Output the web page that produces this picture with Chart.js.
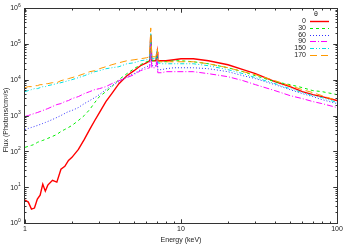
<!DOCTYPE html>
<html>
<head>
<meta charset="utf-8">
<script src="https://cdn.jsdelivr.net/npm/chart.js@4.4.0/dist/chart.umd.min.js"></script>
<style>
  html, body { margin: 0; padding: 0; background: #fff; }
  canvas { display: block; }
</style>
</head>
<body>
<canvas id="grafico" width="350" height="245"></canvas>
<script>
// Energía (keV)
const energias = [1.0, 1.05, 1.1, 1.15, 1.2, 1.25, 1.3, 1.35, 1.4, 1.5, 1.6, 1.7, 1.8, 1.9, 2.0, 2.2, 2.4, 2.6, 2.8, 3.0,
  3.3, 3.6, 4.0, 4.5, 5.0, 5.5, 6.0, 6.3, 6.4, 6.5, 6.9, 7.05, 7.1, 7.5, 8, 9, 10, 12, 15, 20,
  25, 30, 40, 50, 60, 70, 80, 100];

// Flujo (Photons/cm2/s) por ángulo
const flujo0 = [4.35, 3.83, 2.45, 2.61, 4.64, 6.0, 12.1, 7.74, 11.4, 15.6, 13.8, 31.6, 38, 56, 68, 113, 215, 408, 726, 1210,
  2450, 4080, 7740, 12900, 17800, 24500, 29600, 33700, 178000, 33700, 33700, 60000, 33700, 33700, 33700, 35900, 38300, 38300, 33700, 26100,
  19000, 14700, 8800, 6390, 4640, 3830, 3370, 2610];
const flujo30 = [129, 138, 147, 156, 178, 190, 202, 215, 230, 261, 296, 359, 408, 464, 527, 726, 1000, 1470, 2300, 3370,
  4640, 6390, 10000, 14700, 20200, 26100, 31600, 33700, 167000, 33700, 33700, 60000, 31600, 31600, 31600, 33700, 33700, 31600, 27800, 21500,
  16700, 12900, 8800, 7260, 5990, 4950, 4640, 3830];
const flujo60 = [408, 435, 464, 495, 527, 562, 599, 639, 681, 774, 880, 1000, 1140, 1290, 1380, 1670, 2150, 2610, 3160, 3830,
  5270, 6810, 8800, 12100, 14700, 19000, 23000, 24500, 114000, 24500, 24500, 46400, 19000, 19000, 20200, 21500, 21500, 21500, 20200, 16700,
  12900, 10700, 7260, 5270, 4080, 3370, 2780, 2150];
const flujo90 = [938, 1000, 1070, 1140, 1210, 1290, 1380, 1470, 1560, 1780, 2020, 2150, 2450, 2610, 2960, 3370, 4080, 4640, 5270, 5620,
  6390, 7740, 9380, 11400, 13800, 17800, 20200, 21500, 100000, 21500, 21500, 40800, 15600, 15600, 16700, 16700, 16700, 16700, 14700, 12100,
  9380, 7260, 4950, 3590, 2960, 2450, 2150, 1670];
const flujo150 = [4640, 4950, 5270, 5620, 5620, 5990, 6390, 6390, 6810, 7260, 7740, 8250, 8800, 9380, 10000, 11400, 12900, 14700, 16700, 17800,
  20200, 21500, 23000, 27800, 29600, 33700, 35900, 38300, 202000, 38300, 38300, 63900, 29600, 27800, 27800, 27800, 27800, 27800, 24500, 19000,
  14700, 11400, 7740, 5620, 4350, 3590, 3160, 2300];
const flujo170 = [5990, 6390, 6390, 6810, 6810, 7260, 7260, 7740, 7740, 8250, 8250, 9380, 10000, 10700, 11400, 12900, 14700, 16700, 17800, 20200,
  23000, 26100, 29600, 33700, 35900, 38300, 40800, 43500, 278000, 43500, 43500, 72600, 33700, 31600, 31600, 31600, 31600, 31600, 27800, 21500,
  16700, 13800, 9380, 6810, 5270, 4350, 3590, 2610];

const angulos = ["0", "30", "60", "90", "150", "170"];
const ticksX = [1, 10, 100];
const etiquetasX = ["1", "10", "100"];
const ticksY = [1, 10, 100, 1e3, 1e4, 1e5, 1e6];
const exponentesY = ["0", "1", "2", "3", "4", "5", "6"];

const series = [flujo0, flujo30, flujo60, flujo90, flujo150, flujo170];
const colores = ["#ff0000", "#00ee00", "#3030ff", "#ff00ff", "#00e0e0", "#ff9900"];
const guiones = [[], [3, 3], [1, 2], [6, 2, 1, 2], [4, 2, 1, 2, 1, 2], [7, 4]];
const grosores = [1.4, 1, 1, 1, 1, 1];

const fuente = "'Liberation Sans', Arial, sans-serif";

// Marco estilo gnuplot: caja, ticks hacia dentro, etiquetas
const marco = {
  id: "marco",
  afterDraw(chart) {
    const { ctx, chartArea: a, scales: { x, y } } = chart;
    ctx.save();
    ctx.strokeStyle = "#333";
    ctx.lineWidth = 1;
    const L = Math.round(a.left) - 0.5, R = Math.round(a.right) + 0.5;
    const T = Math.round(a.top) + 0.5, B = Math.round(a.bottom) + 0.5;
    ctx.strokeRect(L, T, R - L, B - T);

    ctx.beginPath();
    // ticks eje x (mayores y menores)
    for (let d = 1; d < 100; d *= 10) {
      for (let m = 1; m <= 10; m++) {
        const v = d * m;
        const px = Math.round(x.getPixelForValue(v)) + 0.5;
        const len = (m === 1 || m === 10) ? 4 : 2;
        ctx.moveTo(px, B); ctx.lineTo(px, B - len);
        ctx.moveTo(px, T); ctx.lineTo(px, T + len);
      }
    }
    // ticks eje y
    for (let d = 1; d < 1e6; d *= 10) {
      for (let m = 1; m <= 10; m++) {
        const v = d * m;
        const py = Math.round(y.getPixelForValue(v)) + 0.5;
        const len = (m === 1 || m === 10) ? 4 : 2;
        ctx.moveTo(L, py); ctx.lineTo(L + len, py);
        ctx.moveTo(R, py); ctx.lineTo(R - len, py);
      }
    }
    ctx.stroke();

    ctx.fillStyle = "#222";
    // etiquetas x
    ctx.font = "7px " + fuente;
    ctx.textAlign = "center";
    ctx.textBaseline = "middle";
    ticksX.forEach((v, i) => {
      ctx.fillText(etiquetasX[i], x.getPixelForValue(v), B + 6);
    });
    // etiquetas y (10 con exponente)
    ticksY.forEach((v, i) => {
      const py = y.getPixelForValue(v);
      ctx.font = "7px " + fuente;
      ctx.textAlign = "right";
      ctx.textBaseline = "middle";
      ctx.fillText("10", 18, py + 0.5);
      ctx.font = "5px " + fuente;
      ctx.textAlign = "left";
      ctx.fillText(exponentesY[i], 18, py - 2.5);
    });

    // títulos de ejes
    ctx.font = "7px " + fuente;
    ctx.textAlign = "center";
    ctx.textBaseline = "middle";
    ctx.fillText("Energy (keV)", (a.left + a.right) / 2, 240);
    ctx.save();
    ctx.translate(6, 120);
    ctx.rotate(-Math.PI / 2);
    ctx.fillText("Flux (Photons/cm²/s)", 0, 0);
    ctx.restore();

    // leyenda
    ctx.font = "7px " + fuente;
    ctx.textAlign = "center";
    ctx.fillText("θ", 316, 14);
    chart.data.datasets.forEach((ds, i) => {
      const py = 21 + i * 6.8;
      ctx.textAlign = "right";
      ctx.fillStyle = "#222";
      ctx.fillText(ds.label, 306, py);
      ctx.strokeStyle = ds.borderColor;
      ctx.lineWidth = ds.borderWidth;
      ctx.setLineDash(ds.borderDash);
      ctx.beginPath();
      ctx.moveTo(310, Math.round(py) + 0.5);
      ctx.lineTo(329, Math.round(py) + 0.5);
      ctx.stroke();
      ctx.setLineDash([]);
    });
    ctx.restore();
  }
};

const datasets = series.map((serie, i) => ({
  label: angulos[i],
  data: serie.map((f, j) => ({ x: energias[j], y: f })),
  borderColor: colores[i],
  borderWidth: grosores[i],
  borderDash: guiones[i],
  pointRadius: 0,
  tension: 0,
  fill: false,
  order: series.length - i
}));

new Chart(document.getElementById("grafico"), {
  type: "line",
  data: { datasets: datasets },
  plugins: [marco],
  options: {
    responsive: false,
    animation: false,
    events: [],
    layout: { padding: { left: 25, right: 13, top: 8, bottom: 22 } },
    plugins: { legend: { display: false }, tooltip: { enabled: false } },
    scales: {
      x: { type: "logarithmic", min: 1, max: 100, display: false },
      y: { type: "logarithmic", min: 1, max: 1e6, display: false }
    }
  }
});
</script>
</body>
</html>
